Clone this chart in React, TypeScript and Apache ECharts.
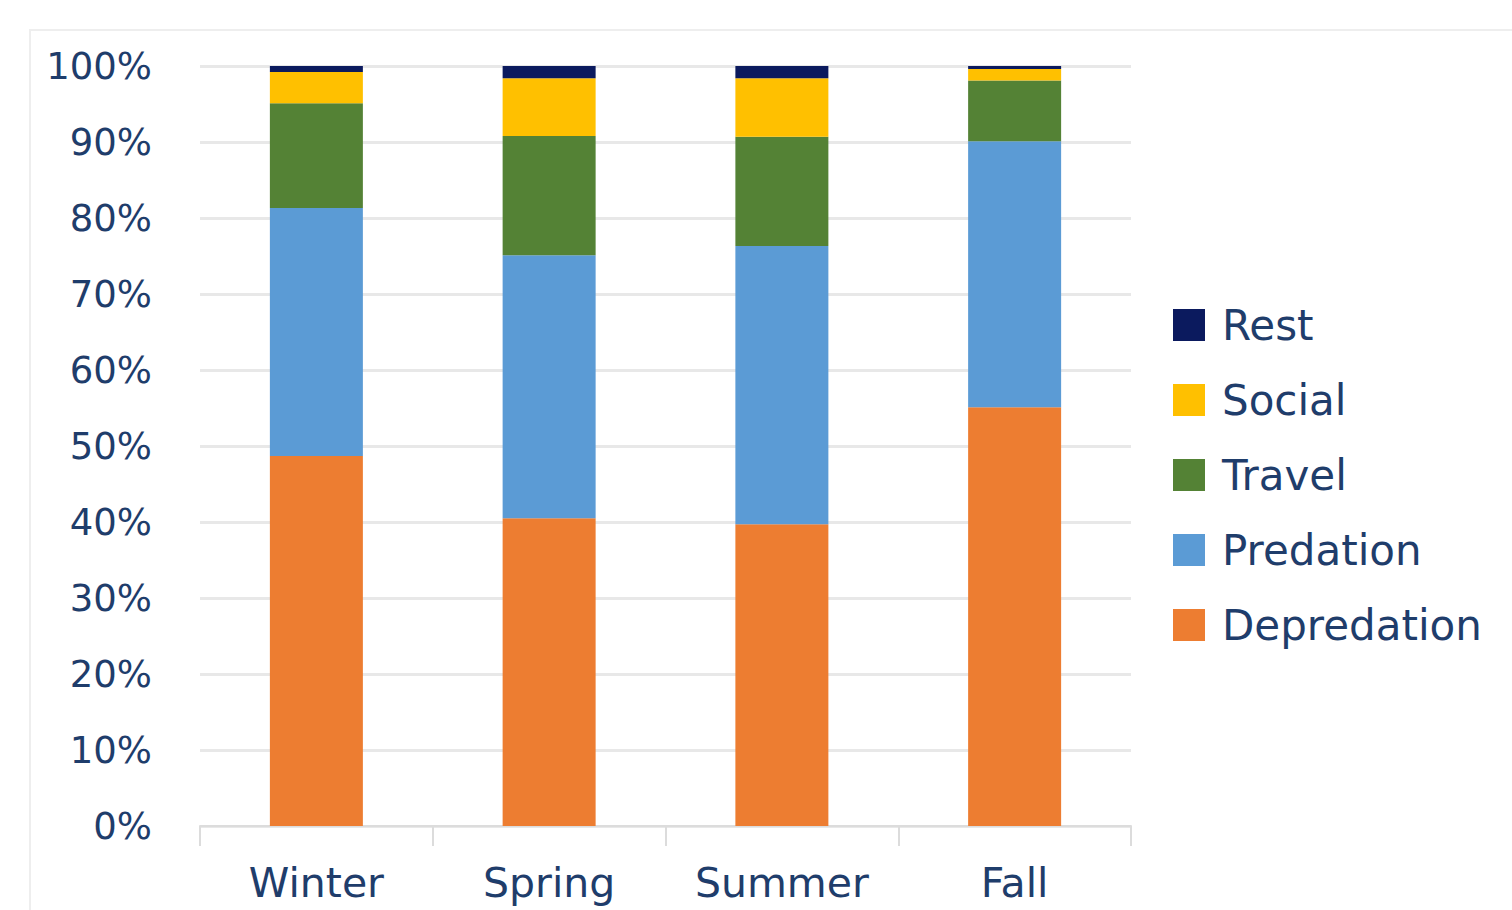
import React, { useEffect, useRef } from "react";
import * as echarts from "echarts";

const categories = ["Winter", "Spring", "Summer", "Fall"];
const depredation = [48.7, 40.5, 39.7, 55.1];
const predation = [32.6, 34.6, 36.6, 35.0];
const travel = [13.8, 15.7, 14.4, 8.0];
const social = [4.1, 7.6, 7.7, 1.5];
const rest = [0.8, 1.6, 1.6, 0.4];
const legendOrder = ["Rest", "Social", "Travel", "Predation", "Depredation"];

const TEXT = "#1f3d6b";
const FONT = "DejaVu Sans";

export default function App() {
  const ref = useRef<HTMLDivElement>(null);
  useEffect(() => {
    document.body.style.margin = "0";
    const chart = echarts.init(ref.current!, null, { renderer: "svg" });
    const mk = (name: string, data: number[], color: string) => ({
      name,
      type: "bar",
      stack: "total",
      data,
      barWidth: 93,
      itemStyle: { color },
    });
    chart.setOption({
      animation: false,
      backgroundColor: "#ffffff",
      textStyle: { fontFamily: FONT },
      graphic: [
        {
          type: "rect",
          shape: { x: 30, y: 30, width: 1500, height: 900 },
          style: { fill: "none", stroke: "#eeeeee", lineWidth: 2 },
          silent: true,
          z: -1,
        },
      ],
      grid: { left: 200, right: 381, top: 66, bottom: 84, containLabel: false },
      legend: {
        orient: "vertical",
        left: 1173,
        top: 304,
        padding: 0,
        data: legendOrder,
        itemWidth: 32,
        itemHeight: 32,
        itemGap: 33,
        icon: "rect",
        textStyle: { fontSize: 42, color: TEXT, fontFamily: FONT, lineHeight: 42, padding: [0, 0, 0, 12] },
      },
      xAxis: {
        type: "category",
        data: categories,
        axisLine: { show: true, lineStyle: { color: "#dcdcdc", width: 2 } },
        axisTick: { show: true, length: 20, lineStyle: { color: "#dcdcdc", width: 2 } },
        axisLabel: { fontSize: 41, color: TEXT, fontFamily: FONT, margin: 36 },
      },
      yAxis: {
        type: "value",
        min: 0,
        max: 100,
        interval: 10,
        axisLine: { show: false },
        axisTick: { show: false },
        splitLine: { lineStyle: { color: "#e8e8e8", width: 3 } },
        axisLabel: { fontSize: 37, color: TEXT, fontFamily: FONT, margin: 48, formatter: "{value}%" },
      },
      series: [
        mk("Depredation", depredation, "#ed7d31"),
        mk("Predation", predation, "#5b9bd5"),
        mk("Travel", travel, "#548235"),
        mk("Social", social, "#ffc000"),
        mk("Rest", rest, "#0b1a5e"),
      ],
    });
    return () => chart.dispose();
  }, []);
  return <div ref={ref} style={{ position: "fixed", left: 0, top: 0, width: 1512, height: 910 }} />;
}
